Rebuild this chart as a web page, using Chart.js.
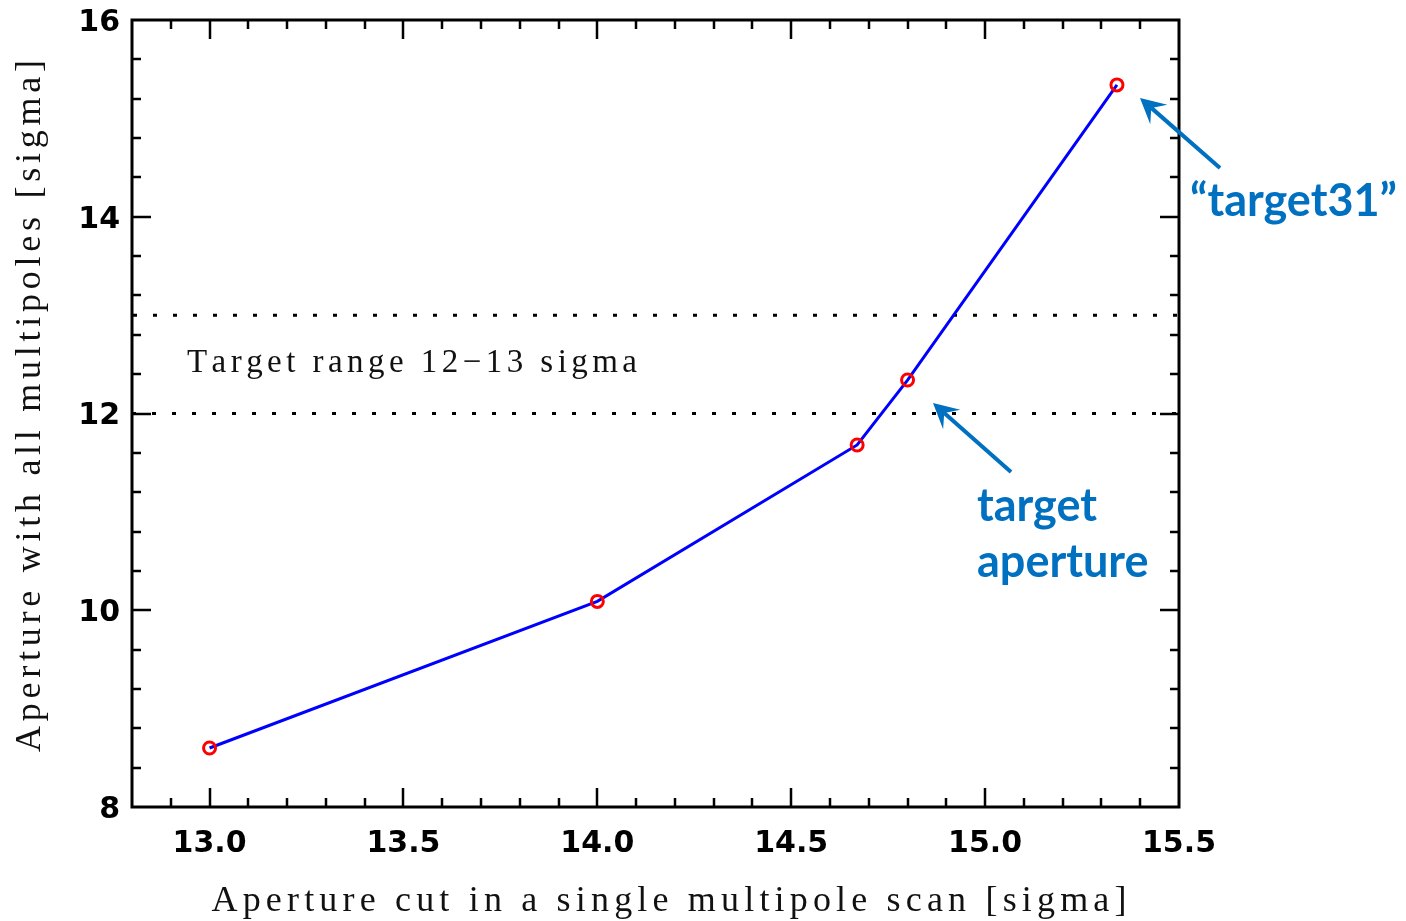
<!DOCTYPE html>
<html>
<head>
<meta charset="utf-8">
<title>Aperture scan</title>
<script src="https://cdn.jsdelivr.net/npm/chart.js@4.4.0/dist/chart.umd.min.js"></script>
<style>
  html, body { margin: 0; padding: 0; background: #fff; }
  canvas { display: block; }
</style>
</head>
<body>
<canvas id="chart" width="1406" height="921"></canvas>
<script>
// aperture cut in a single-multipole scan vs. aperture with all multipoles
var cutSigma    = [13.0, 14.0, 14.67, 14.80, 15.34];
var fullSigma   = [8.60, 10.09, 11.68, 12.34, 15.34];
var targetRange = [12, 13];
var xTicks      = [13.0, 13.5, 14.0, 14.5, 15.0, 15.5];
var yTicks      = [8, 10, 12, 14, 16];

var X_MIN = 12.8, X_MAX = 15.5, Y_MIN = 8, Y_MAX = 16;
var BLUE_NOTE = '#0070c0';
var SERIF = '"Liberation Serif", serif';

function hline(y) {
  return [{ x: X_MIN, y: y }, { x: X_MAX, y: y }];
}

// draw text stretched to a given width by spreading the letters
function spacedText(ctx, text, cx, cy, width) {
  var widths = [], total = 0;
  for (var i = 0; i < text.length; i++) {
    var w = ctx.measureText(text[i]).width;
    widths.push(w); total += w;
  }
  var gap = (width - total) / (text.length - 1);
  var x = cx - width / 2;
  ctx.textAlign = 'left';
  ctx.textBaseline = 'middle';
  for (var j = 0; j < text.length; j++) {
    ctx.fillText(text[j], x, cy);
    x += widths[j] + gap;
  }
}

function arrow(ctx, x0, y0, x1, y1) {
  var dx = x1 - x0, dy = y1 - y0, len = Math.hypot(dx, dy);
  var ux = dx / len, uy = dy / len, px = -uy, py = ux;
  var hl = 25, hw = 13, notch = 15;
  ctx.beginPath();
  ctx.moveTo(x0, y0);
  ctx.lineTo(x1 - ux * notch, y1 - uy * notch);
  ctx.stroke();
  ctx.beginPath();
  ctx.moveTo(x1, y1);
  ctx.lineTo(x1 - ux * hl + px * hw, y1 - uy * hl + py * hw);
  ctx.lineTo(x1 - ux * notch, y1 - uy * notch);
  ctx.lineTo(x1 - ux * hl - px * hw, y1 - uy * hl - py * hw);
  ctx.closePath();
  ctx.fill();
}

var framePlugin = {
  id: 'frame',
  afterDatasetsDraw: function(chart) {
    var ctx = chart.ctx, a = chart.chartArea;
    var xs = chart.scales.x, ys = chart.scales.y;
    ctx.save();
    ctx.strokeStyle = '#000';
    ctx.lineWidth = 2.5;
    ctx.lineCap = 'butt';

    // inward ticks on all four sides
    ctx.beginPath();
    for (var i = 129; i < 155; i++) {
      var px = Math.round(xs.getPixelForValue(i / 10));
      var lx = (i % 5 === 0) ? 19 : 9;
      ctx.moveTo(px, a.bottom); ctx.lineTo(px, a.bottom - lx);
      ctx.moveTo(px, a.top);    ctx.lineTo(px, a.top + lx);
    }
    for (var k = 1; k < 20; k++) {
      var v = Y_MIN + k * 0.4;
      var py = Math.round(ys.getPixelForValue(v));
      var ly = (k % 5 === 0) ? 19 : 9;
      ctx.moveTo(a.left, py);  ctx.lineTo(a.left + ly, py);
      ctx.moveTo(a.right, py); ctx.lineTo(a.right - ly, py);
    }
    ctx.stroke();
    ctx.lineWidth = 3;
    ctx.strokeRect(a.left, a.top, a.right - a.left, a.bottom - a.top);

    // axis titles
    ctx.fillStyle = '#111';
    ctx.font = '36px ' + SERIF;
    spacedText(ctx, 'Aperture cut in a single multipole scan [sigma]', 669, 902, 915);
    ctx.save();
    ctx.translate(31, 406);
    ctx.rotate(-Math.PI / 2);
    spacedText(ctx, 'Aperture with all multipoles [sigma]', 0, 0, 692);
    ctx.restore();

    ctx.font = '33px ' + SERIF;
    spacedText(ctx, 'Target range 12\u221213 sigma', 412, 363, 450);

    // callouts
    ctx.fillStyle = BLUE_NOTE;
    ctx.strokeStyle = BLUE_NOTE;
    ctx.lineWidth = 4;
    arrow(ctx, 1011, 472, 933, 403);
    arrow(ctx, 1220, 168, 1140, 98);
    ctx.font = 'bold 45px Lato, "Open Sans", sans-serif';
    ctx.textAlign = 'left';
    ctx.textBaseline = 'alphabetic';
    ctx.fillText('target', 977, 521);
    ctx.fillText('aperture', 977, 577);
    ctx.fillText('\u201ctarget31\u201d', 1190, 216);
    ctx.restore();
  }
};

var tickFont = { family: '"DejaVu Sans", sans-serif', weight: 'bold', size: 30 };

new Chart(document.getElementById('chart'), {
  type: 'line',
  data: {
    datasets: [
      {
        label: 'scan',
        data: cutSigma.map(function(c, i) { return { x: c, y: fullSigma[i] }; }),
        borderColor: '#0000ff',
        borderWidth: 3,
        pointRadius: 6,
        pointHoverRadius: 6,
        pointBorderColor: '#ff0000',
        pointBackgroundColor: 'rgba(0,0,0,0)',
        pointBorderWidth: 3,
        tension: 0,
        order: 0
      },
      {
        label: 'range low',
        data: hline(targetRange[0]),
        borderColor: '#000',
        borderWidth: 3,
        borderDash: [4, 16],
        borderDashOffset: -20,
        pointRadius: 0,
        order: 1
      },
      {
        label: 'range high',
        data: hline(targetRange[1]),
        borderColor: '#000',
        borderWidth: 3,
        borderDash: [4, 16],
        borderDashOffset: -1,
        pointRadius: 0,
        order: 1
      }
    ]
  },
  options: {
    responsive: false,
    animation: false,
    layout: { padding: { top: 20, right: 227, bottom: 0, left: 0 } },
    plugins: { legend: { display: false }, tooltip: { enabled: false } },
    scales: {
      x: {
        type: 'linear',
        position: 'bottom',
        min: X_MIN,
        max: X_MAX,
        grid: { display: false },
        border: { display: false },
        afterBuildTicks: function(s) { s.ticks = xTicks.map(function(v) { return { value: v }; }); },
        afterFit: function(s) { s.height = 114; s.paddingLeft = 0; s.paddingRight = 0; },
        ticks: {
          font: tickFont,
          color: '#000',
          padding: 11,
          maxRotation: 0,
          autoSkip: false,
          callback: function(v) { return Number(v).toFixed(1); }
        }
      },
      y: {
        type: 'linear',
        min: Y_MIN,
        max: Y_MAX,
        grid: { display: false },
        border: { display: false },
        afterBuildTicks: function(s) { s.ticks = yTicks.map(function(v) { return { value: v }; }); },
        afterFit: function(s) { s.width = 132; s.paddingTop = 0; s.paddingBottom = 0; },
        ticks: {
          font: tickFont,
          color: '#000',
          padding: 4,
          labelOffset: 3,
          callback: function(v) { return String(v); }
        }
      }
    }
  },
  plugins: [framePlugin]
});
</script>
</body>
</html>
